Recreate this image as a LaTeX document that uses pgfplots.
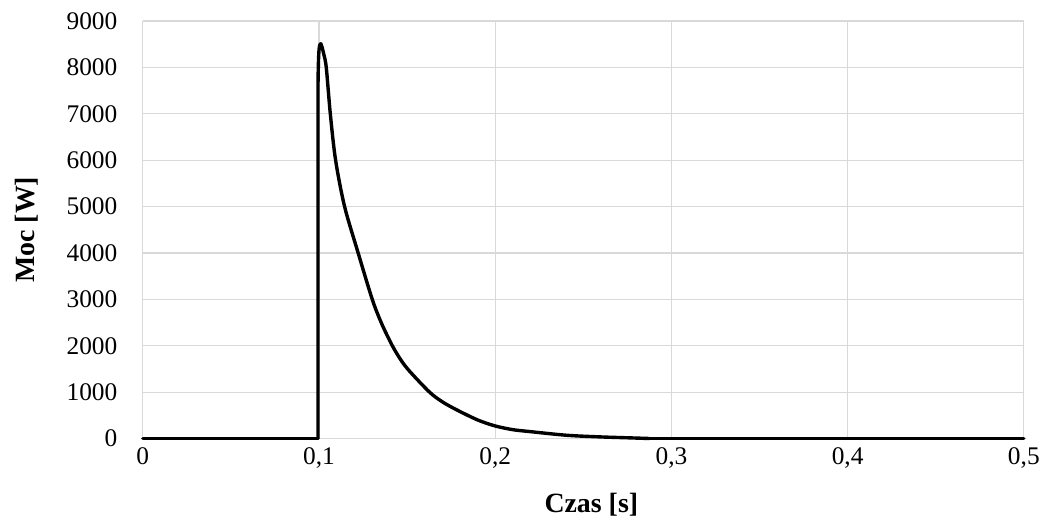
\documentclass[border=0pt]{standalone}
\usepackage{fontspec}
\setmainfont{Liberation Serif}
\usepackage{pgfplots}
\pgfplotsset{compat=1.18}
\definecolor{gridgray}{RGB}{217,217,217}
\begin{document}
\begin{tikzpicture}
\begin{axis}[
  scale only axis,
  width=882bp, height=418bp,
  xmin=0, xmax=0.5, ymin=0, ymax=9000,
  xtick={0,0.1,0.2,0.3,0.4,0.5},
  ytick={0,1000,2000,3000,4000,5000,6000,7000,8000,9000},
  /pgf/number format/assume math mode=true,
  /pgf/number format/use comma,
  /pgf/number format/1000 sep={},
  xticklabel style={font=\fontsize{25.5}{28}\selectfont, yshift=-6bp},
  yticklabel style={font=\fontsize{25.5}{28}\selectfont, xshift=-22bp},
  major tick length=0pt,
  grid=major,
  major grid style={gridgray, line width=1.2bp},
  axis line style={gridgray, line width=1.2bp},
  axis x line*=bottom, axis y line*=left,
  clip=false,
  xlabel={\textbf{Czas [s]}},
  ylabel={\textbf{Moc [W]}},
  xlabel style={font=\fontsize{28}{31}\selectfont, at={(axis description cs:0.5,0)}, anchor=center, yshift=-66bp, xshift=8bp},
  ylabel style={font=\fontsize{28}{31}\selectfont, at={(axis description cs:0,0.5)}, anchor=center, yshift=116bp},
]
\addplot[black, line width=3.4bp, line cap=round, line join=round] coordinates {
(0,0) (0.0994,0)
};
\addplot[black, line width=3.4bp, line cap=round, line join=round, smooth, tension=0.5] coordinates {
(0.0994,0) (0.0994,7000) (0.0996,8000) (0.1000,8380) (0.1005,8490) (0.1010,8510)
(0.1016,8450) (0.1026,8300) (0.1041,8000) (0.1064,7000) (0.1094,6000)
(0.1145,5000) (0.1222,4000) (0.1302,3000) (0.1355,2480) (0.1416,2000) (0.1465,1690) (0.1514,1450)
(0.1627,1000) (0.1700,790) (0.1780,620) (0.1900,400) (0.2000,270) (0.2100,190) (0.2194,150) (0.2404,70) (0.2591,35) (0.2778,12)
(0.2875,0)
};
\addplot[black, line width=3.4bp, line cap=round, line join=round] coordinates {
(0.2875,0) (0.5,0)
};
\end{axis}
\path (-143bp,-85bp) rectangle (900bp,439bp);
\end{tikzpicture}
\end{document}
